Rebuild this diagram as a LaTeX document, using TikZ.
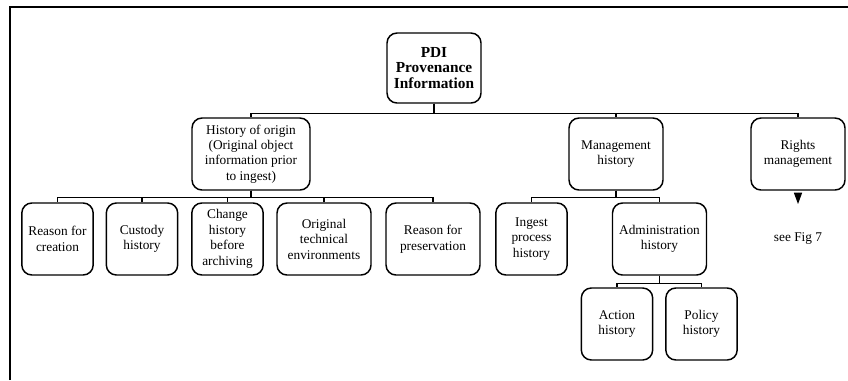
\documentclass[tikz,border=0pt]{standalone}
\usepackage{fontspec}
\setmainfont{Liberation Serif}
\usetikzlibrary{arrows.meta}

\begin{document}
\begin{tikzpicture}[
    x=0.75pt, y=-0.75pt,
    % Estilo de las cajas
    box/.style={draw, line width=1.1pt, rounded corners=7.5pt, align=center,
        inner sep=1pt, minimum height=54pt,
        font=\fontsize{10}{11.6}\selectfont},
    narrow/.style={box, minimum width=53.5pt},
    wide/.style={box, minimum width=70.5pt},
    % Estilo de los conectores
    link/.style={line width=1pt}
]
    \useasboundingbox (0,0) rectangle (848,380);

    % Marco
    \draw[line width=1.5pt] (10,380) |- (848,7);

    % ==========================================
    % NIVEL 1 Y 2
    % ==========================================
    \node[box, minimum width=70.5pt, minimum height=52.5pt,
          font=\fontsize{11.5}{11.5}\selectfont\bfseries] (pdi) at (434,68)
          {PDI\\Provenance\\Information};

    \node[box, minimum width=88.5pt] (origin) at (251,154)
          {History of origin\\(Original object\\information prior\\to ingest)};
    \node[wide] (mgmt) at (616,154) {Management\\history};
    \node[wide] (rights) at (798,154) {Rights\\management};

    \draw[link] (pdi.south) -- ++(0,10) -| (origin.north);
    \draw[link] (pdi.south) -- ++(0,10) -| (mgmt.north);
    \draw[link] (pdi.south) -- ++(0,10) -| (rights.north);

    % ==========================================
    % NIVEL 3: historia de origen
    % ==========================================
    \node[narrow] (creation) at (57.5,239) {Reason for\\creation};
    \node[narrow] (custody) at (142,239) {Custody\\history};
    \node[narrow] (change) at (227.5,239) {Change\\history\\before\\archiving};
    \node[wide] (techenv) at (324,239) {Original\\technical\\environments};
    \node[wide] (preserve) at (433,239) {Reason for\\preservation};

    \foreach \kid in {creation, custody, change, techenv, preserve}
        \draw[link] (origin.south) -- ++(0,7) -| (\kid.north);

    % ==========================================
    % NIVEL 3: historia de gestion
    % ==========================================
    \node[narrow] (ingest) at (531.5,239) {Ingest\\process\\history};
    \node[wide] (admin) at (659.5,239) {Administration\\history};

    \foreach \kid in {ingest, admin}
        \draw[link] (mgmt.south) -- ++(0,7) -| (\kid.north);

    % Nivel 4
    \node[narrow] (action) at (617,324) {Action\\history};
    \node[narrow] (policy) at (701.5,324) {Policy\\history};

    \foreach \kid in {action, policy}
        \draw[link] (admin.south) -- ++(0,8) -| (\kid.north);

    % Derechos: referencia a otra figura
    \node[font=\fontsize{10}{11.6}\selectfont] (seefig) at (798,239) {see Fig 7};
    \coordinate (tip) at ([yshift=-10pt]rights.south);
    \draw[link, -{Triangle[width=6pt, length=8.5pt]}, shorten <=1.5pt] (rights.south) -- (tip);

\end{tikzpicture}
\end{document}
